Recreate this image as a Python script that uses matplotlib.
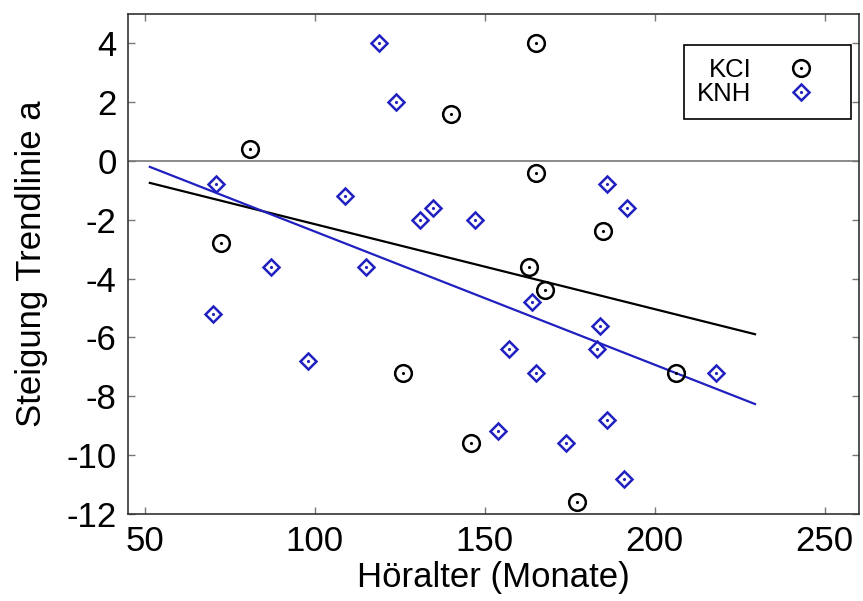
import numpy as np
import matplotlib.pyplot as plt

# KCI (circles)
kci_x = [81, 72.5, 140, 165, 165, 184.7, 163, 167.6, 126, 146, 177, 206.2]
kci_y = [0.4, -2.8, 1.6, 4.0, -0.4, -2.4, -3.6, -4.4, -7.2, -9.6, -11.6, -7.2]

# KNH (diamonds)
knh_x = [119, 124, 71, 109, 131, 134.7, 147, 87, 115, 70, 98, 186, 192,
         164, 184, 183, 157, 165, 218, 154, 174, 186, 191]
knh_y = [4.0, 2.0, -0.8, -1.2, -2.0, -1.6, -2.0, -3.6, -3.6, -5.2, -6.8, -0.8, -1.6,
         -4.8, -5.6, -6.4, -6.4, -7.2, -7.2, -9.2, -9.6, -8.8, -10.8]

# trend lines (slope, intercept) and x range
kci_fit = (-0.0289, 0.74)
knh_fit = (-0.0453, 2.13)
fit_range = [51.5, 229.5]

xticks = [50, 100, 150, 200, 250]
yticks = [4, 2, 0, -2, -4, -6, -8, -10, -12]

blue = '#2020c0'

plt.rcParams['font.family'] = ['Liberation Sans', 'DejaVu Sans']
plt.rcParams['axes.unicode_minus'] = False

fig = plt.figure(figsize=(8.63, 6.01), dpi=100)
ax = fig.add_axes([0.148, 0.145, 0.847, 0.832])

ax.axhline(0, color='#777777', lw=1.2, zorder=1)

fx = np.array(fit_range)
ax.plot(fx, kci_fit[0] * fx + kci_fit[1], color='black', lw=1.6, zorder=2)
ax.plot(fx, knh_fit[0] * fx + knh_fit[1], color=blue, lw=1.6, zorder=2)

c1, = ax.plot(kci_x, kci_y, 'o', ms=12, mfc='none', mec='black', mew=1.8, zorder=3)
c2, = ax.plot(kci_x, kci_y, '.', ms=2.5, color='black', zorder=3)
d1, = ax.plot(knh_x, knh_y, 'D', ms=8.5, mfc='none', mec=blue, mew=1.8, zorder=3)
d2, = ax.plot(knh_x, knh_y, '.', ms=2.5, color=blue, zorder=3)

ax.set_xlim(45, 260)
ax.set_ylim(-12, 5)
ax.set_xticks(xticks)
ax.set_yticks(yticks)
ax.tick_params(direction='in', length=5, width=1, color='#777777',
               top=True, right=True, labelsize=25, pad=8)
for s in ax.spines.values():
    s.set_color('#333333')
    s.set_linewidth(1.2)

ax.set_xlabel('Höralter (Monate)', fontsize=25, labelpad=2)
ax.set_ylabel('Steigung Trendlinie a', fontsize=25, labelpad=13)

leg = ax.legend([(c1, c2), (d1, d2)], ['KCI', 'KNH'], loc='upper right',
                bbox_to_anchor=(0.990, 0.938), borderaxespad=0, markerfirst=False,
                fontsize=18.5, fancybox=False, framealpha=1, edgecolor='black',
                handlelength=2.9, handletextpad=0.5, borderpad=0.5,
                labelspacing=0.0)
leg.get_frame().set_linewidth(1.2)

fig.savefig('out.png', dpi=100)
